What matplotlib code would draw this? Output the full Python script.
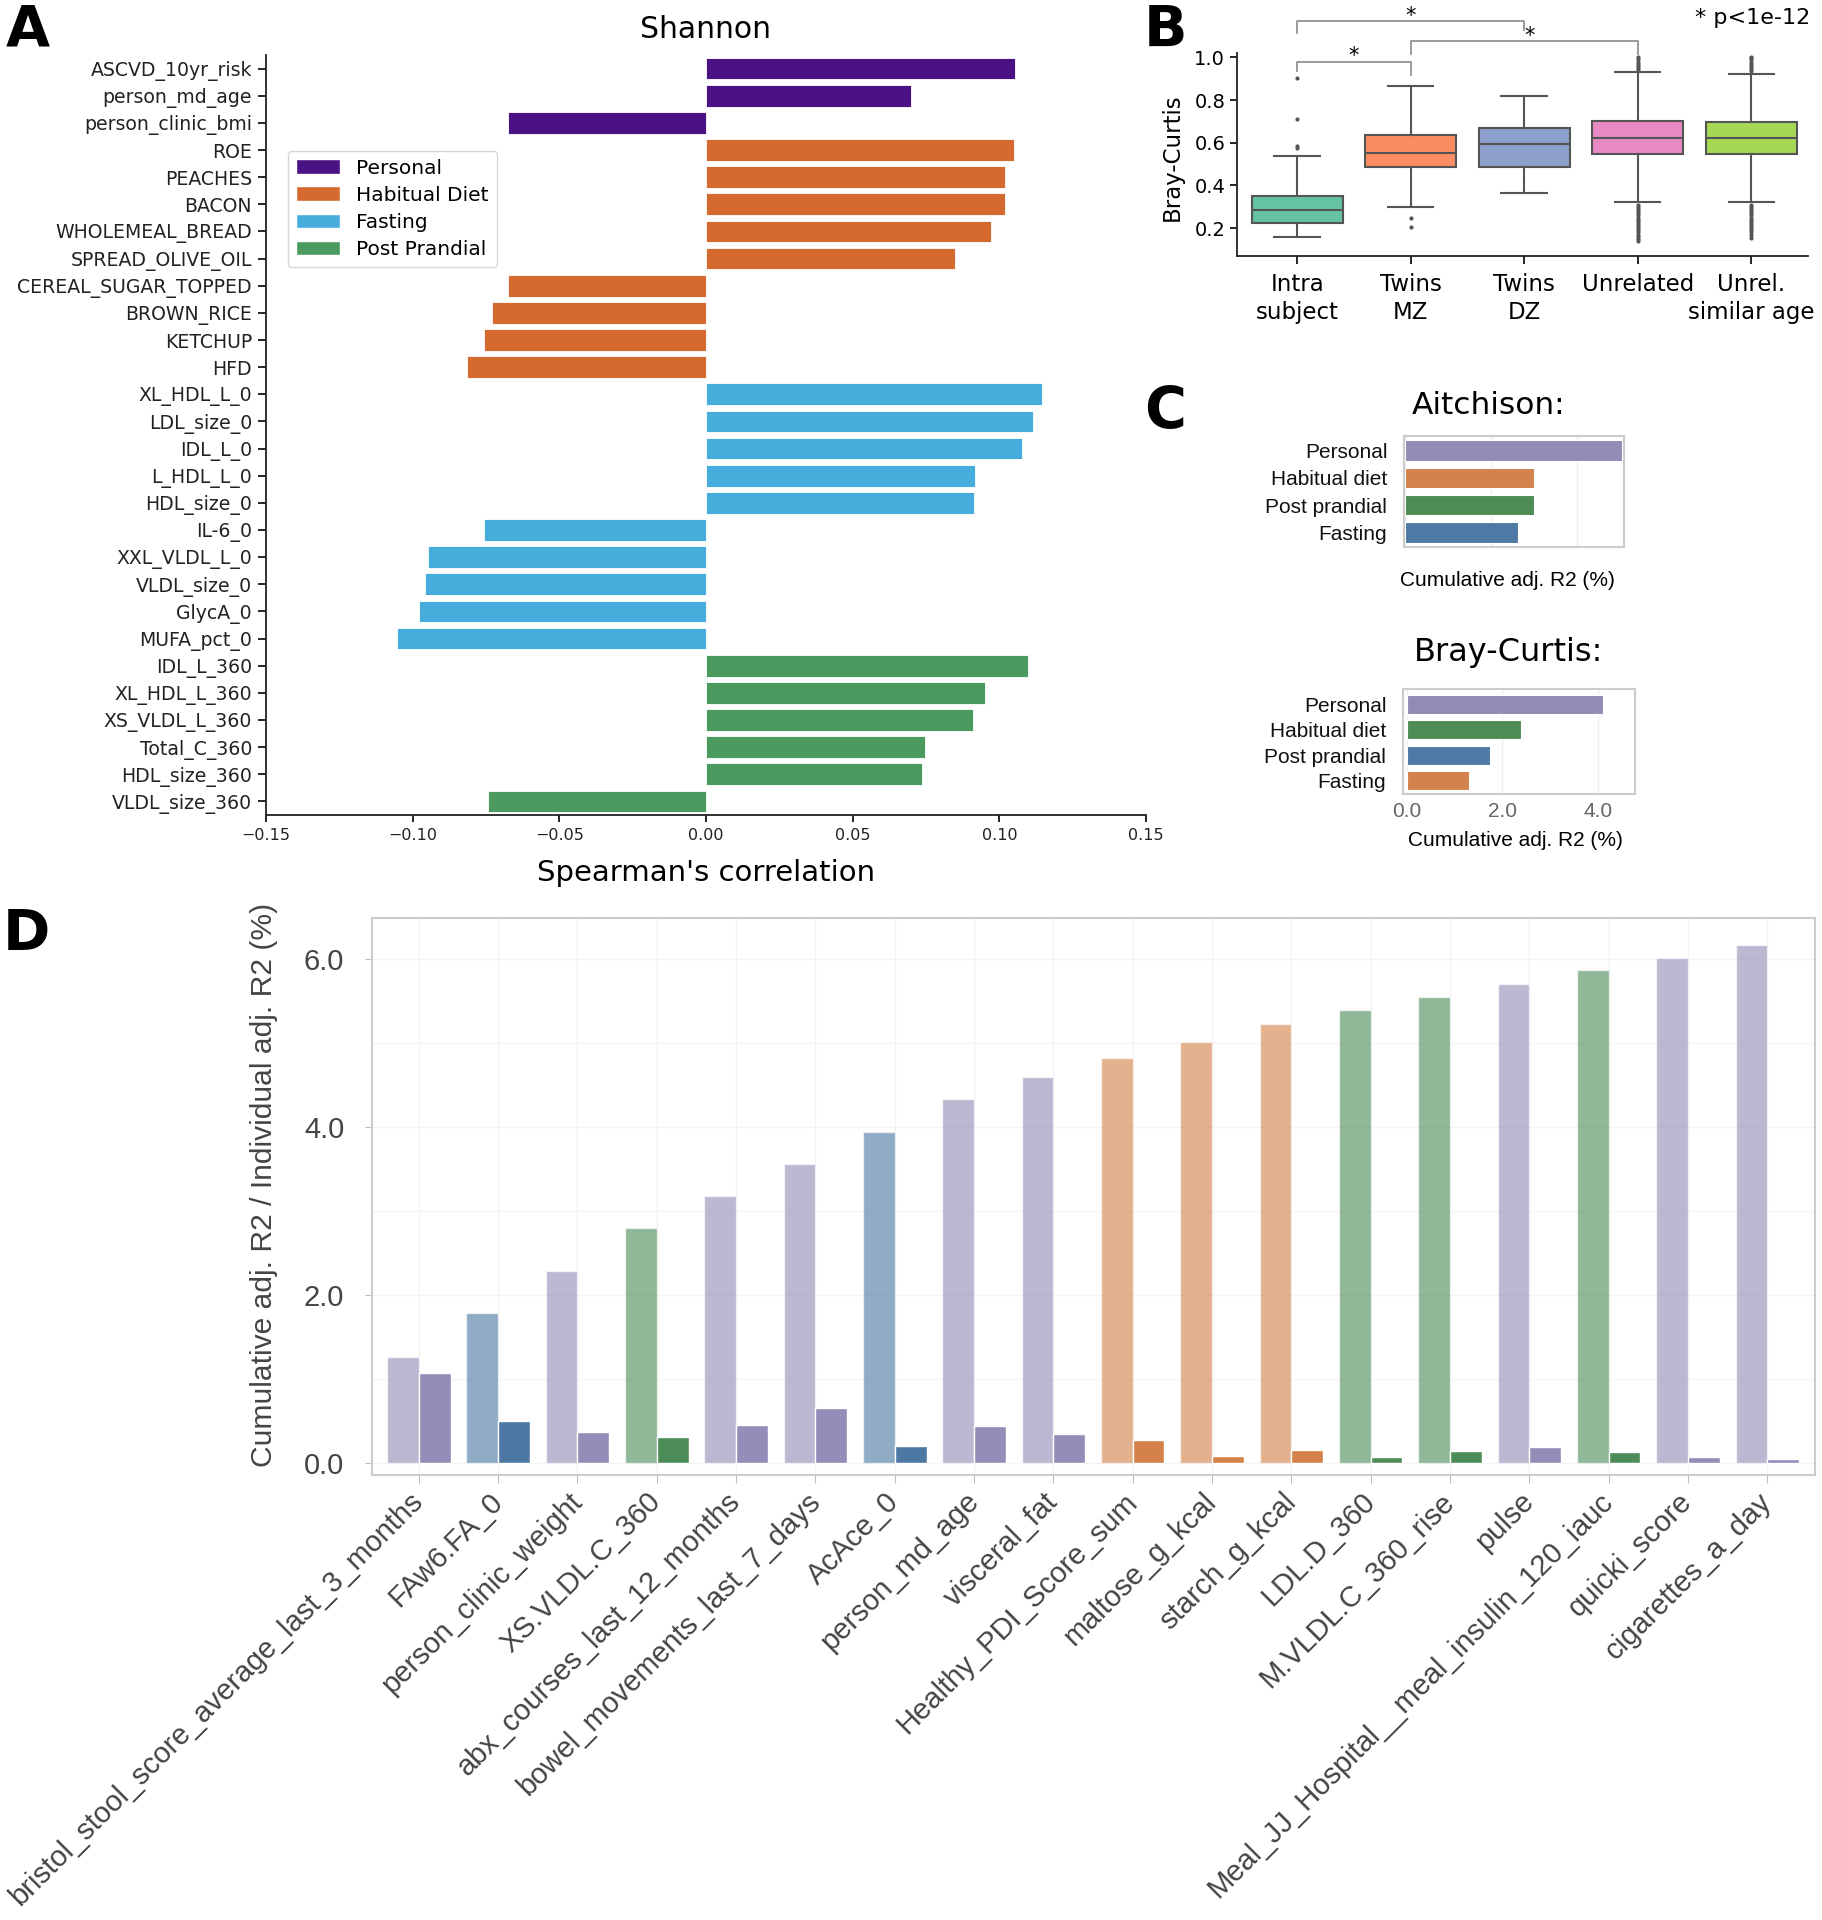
import numpy as np
import matplotlib.pyplot as plt
from matplotlib.patches import Patch

W, H = 1822, 1920

# ---------------- data ----------------
# A: Shannon vs Spearman's correlation
shannon_features = ['ASCVD_10yr_risk', 'person_md_age', 'person_clinic_bmi',
                    'ROE', 'PEACHES', 'BACON', 'WHOLEMEAL_BREAD', 'SPREAD_OLIVE_OIL',
                    'CEREAL_SUGAR_TOPPED', 'BROWN_RICE', 'KETCHUP', 'HFD',
                    'XL_HDL_L_0', 'LDL_size_0', 'IDL_L_0', 'L_HDL_L_0', 'HDL_size_0',
                    'IL-6_0', 'XXL_VLDL_L_0', 'VLDL_size_0', 'GlycA_0', 'MUFA_pct_0',
                    'IDL_L_360', 'XL_HDL_L_360', 'XS_VLDL_L_360', 'Total_C_360',
                    'HDL_size_360', 'VLDL_size_360']
shannon_corr = [0.1055, 0.0698, -0.0675,
                0.105, 0.102, 0.1018, 0.097, 0.0848,
                -0.0675, -0.073, -0.0758, -0.0815,
                0.1145, 0.1115, 0.1078, 0.0918, 0.0913,
                -0.0758, -0.0948, -0.0958, -0.098, -0.1055,
                0.1098, 0.095, 0.091, 0.0748, 0.0738, -0.0743]
shannon_group = (['Personal'] * 3 + ['Habitual Diet'] * 9 +
                 ['Fasting'] * 10 + ['Post Prandial'] * 6)
group_names = ['Personal', 'Habitual Diet', 'Fasting', 'Post Prandial']
group_colors_a = {'Personal': '#4b1284', 'Habitual Diet': '#d46a2f',
                  'Fasting': '#47addc', 'Post Prandial': '#4b9a60'}

# B: Bray-Curtis distances (box summary)
b_labels = ['Intra\nsubject', 'Twins\nMZ', 'Twins\nDZ', 'Unrelated', 'Unrel.\nsimilar age']
b_med = [0.284, 0.554, 0.592, 0.624, 0.624]
b_q1 = [0.225, 0.485, 0.487, 0.549, 0.549]
b_q3 = [0.352, 0.638, 0.668, 0.700, 0.696]
b_lo = [0.161, 0.297, 0.364, 0.322, 0.323]
b_hi = [0.537, 0.866, 0.818, 0.930, 0.924]
b_fliers = [
    [0.574, 0.587, 0.71, 0.904],
    [0.247, 0.205],
    [],
    [0.94, 0.95, 0.96, 0.97, 0.98, 0.99, 1.0, 0.31, 0.30, 0.29, 0.28, 0.27, 0.26,
     0.25, 0.24, 0.23, 0.22, 0.21, 0.20, 0.19, 0.18, 0.17, 0.16, 0.15, 0.142],
    [0.935, 0.945, 0.955, 0.965, 0.975, 0.985, 0.995, 1.0, 0.31, 0.30, 0.29, 0.28,
     0.27, 0.26, 0.25, 0.24, 0.23, 0.22, 0.21, 0.20, 0.19, 0.18, 0.17, 0.155],
]
b_colors = ['#66c2a5', '#fc8d62', '#8da0cb', '#e78ac3', '#a6d854']

# C: cumulative adj. R2
c_labels = ['Personal', 'Habitual diet', 'Post prandial', 'Fasting']
aitchison_r2 = [5.05, 2.99, 2.99, 2.62]
aitchison_colors = ['#918bb6', '#d3824d', '#4e8c55', '#4e79a5']
braycurtis_r2 = [4.10, 2.40, 1.74, 1.30]
braycurtis_colors = ['#918bb6', '#4e8c55', '#4e79a5', '#d3824d']

# D: cumulative / individual adj. R2
d_features = ['bristol_stool_score_average_last_3_months', 'FAw6.FA_0',
              'person_clinic_weight', 'XS.VLDL.C_360', 'abx_courses_last_12_months',
              'bowel_movements_last_7_days', 'AcAce_0', 'person_md_age', 'visceral_fat',
              'Healthy_PDI_Score_sum', 'maltose_g_kcal', 'starch_g_kcal', 'LDL.D_360',
              'M.VLDL.C_360_rise', 'pulse', 'Meal_JJ_Hospital__meal_insulin_120_iauc',
              'quicki_score', 'cigarettes_a_day']
d_cumulative = [1.266, 1.788, 2.289, 2.804, 3.178, 3.557, 3.944, 4.331, 4.60,
                4.823, 5.01, 5.224, 5.394, 5.549, 5.699, 5.868, 6.008, 6.164]
d_individual = [1.07, 0.506, 0.369, 0.311, 0.456, 0.653, 0.201, 0.443, 0.347,
                0.274, 0.087, 0.16, 0.074, 0.151, 0.192, 0.132, 0.074, 0.055]
d_group = ['P', 'F', 'P', 'PP', 'P', 'P', 'F', 'P', 'P',
           'D', 'D', 'D', 'PP', 'PP', 'P', 'PP', 'P', 'P']
d_palette = {'P': '#938db7', 'F': '#4c78a3', 'PP': '#4c8c57', 'D': '#d4824a'}


def rect(x0, y0, x1, y1):
    # pixel box (origin top-left) -> figure fraction
    return [x0 / W, 1 - y1 / H, (x1 - x0) / W, (y1 - y0) / H]


def ftext(x, y, s, **kw):
    fig.text(x / W, 1 - y / H, s, **kw)


fig = plt.figure(figsize=(W / 100, H / 100), dpi=100)
LIB = 'Liberation Sans'

# ---------------- A ----------------
axA = fig.add_axes(rect(266, 55, 1146, 815))
ypos = np.arange(len(shannon_features))
axA.barh(ypos, shannon_corr, height=0.8,
         color=[group_colors_a[g] for g in shannon_group],
         edgecolor='white', linewidth=0.6)
axA.set_ylim(len(shannon_features) - 0.5, -0.5)
axA.set_xlim(-0.15, 0.15)
axA.set_xticks([-0.15, -0.10, -0.05, 0.0, 0.05, 0.10, 0.15])
axA.set_yticks(ypos)
axA.set_yticklabels(shannon_features, fontsize=13.6, color='#222222')
axA.tick_params(axis='y', length=6, width=1.2, pad=4)
axA.tick_params(axis='x', length=5, width=1.2, labelsize=11.5, pad=4, labelcolor='#222222')
for s in ['top', 'right']:
    axA.spines[s].set_visible(False)
for s in ['left', 'bottom']:
    axA.spines[s].set_linewidth(1.3)
    axA.spines[s].set_color('#222222')
handles = [Patch(facecolor=group_colors_a[g], edgecolor='white', label=g) for g in group_names]
axA.legend(handles=handles, loc='upper left', bbox_to_anchor=(0.025, 0.874),
           borderaxespad=0, fontsize=14.5, handlelength=2.2, handleheight=0.75,
           labelspacing=0.4, frameon=True, edgecolor='#cccccc', fancybox=True)
ftext(706, 29, 'Shannon', ha='center', va='center', fontsize=21.5)
ftext(706, 873, "Spearman's correlation", ha='center', va='center', fontsize=21)

# ---------------- B ----------------
axB = fig.add_axes(rect(1237, 53, 1808, 256))
stats = []
for i in range(5):
    stats.append(dict(med=b_med[i], q1=b_q1[i], q3=b_q3[i], whislo=b_lo[i],
                      whishi=b_hi[i], fliers=b_fliers[i]))
gray = '#555555'
bp = axB.bxp(stats, positions=range(5), widths=0.8, capwidths=0.4, patch_artist=True,
             boxprops=dict(edgecolor=gray, linewidth=1.5),
             medianprops=dict(color=gray, linewidth=1.5),
             whiskerprops=dict(color=gray, linewidth=1.5),
             capprops=dict(color=gray, linewidth=1.5),
             flierprops=dict(marker='o', markersize=3, markerfacecolor=gray,
                             markeredgecolor='none'))
for patch, c in zip(bp['boxes'], b_colors):
    patch.set_facecolor(c)
axB.set_xlim(-0.53, 4.5)
axB.set_ylim(0.07, 1.02)
axB.set_yticks([0.2, 0.4, 0.6, 0.8, 1.0])
axB.set_xticks(range(5))
axB.set_xticklabels(b_labels, fontsize=16.5, linespacing=1.3)
axB.tick_params(axis='y', labelsize=14, length=5, width=1.2)
axB.tick_params(axis='x', length=6, width=1.2, pad=6)
for s in ['top', 'right']:
    axB.spines[s].set_visible(False)
for s in ['left', 'bottom']:
    axB.spines[s].set_linewidth(1.3)
    axB.spines[s].set_color('#222222')
ftext(1172, 157, 'Bray-Curtis', rotation=90, ha='center', va='center', fontsize=16.5)
# significance brackets
brackets = [(0, 2, 1.168, 1.114, 1.128, 1.0, 1.168),
            (1, 3, 1.075, 1.016, 1.016, 2.05, 1.075),
            (0, 1, 0.980, 0.938, 0.919, 0.5, 0.980)]
for xa, xb, yb, ya_leg, yb_leg, xs, ys in brackets:
    axB.plot([xa, xa, xb, xb], [ya_leg, yb, yb, yb_leg], color='#8a8a8a', lw=1.2,
             clip_on=False)
    axB.text(xs, ys - 0.022, '*', ha='center', va='bottom', fontsize=15, clip_on=False)
ftext(1810, 18, '* p<1e-12', ha='right', va='center', fontsize=16)

# ---------------- C ----------------
def c_panel(box, vals, cols, xlim, ylim):
    ax = fig.add_axes(box)
    yy = np.arange(len(c_labels))
    ax.barh(yy, vals, height=0.74, color=cols, edgecolor='white', linewidth=0.8)
    ax.set_ylim(*ylim)
    ax.set_xlim(*xlim)
    ax.set_yticks(yy)
    ax.set_yticklabels(c_labels, fontsize=15, family=LIB, color='#111111')
    ax.set_xticks([0, 2, 4])
    ax.tick_params(axis='y', length=0, pad=12)
    ax.tick_params(axis='x', length=0, pad=6)
    ax.grid(axis='x', color='#eeeeee', lw=1)
    ax.set_axisbelow(True)
    for s in ax.spines.values():
        s.set_color('#cccccc')
        s.set_linewidth(1.5)
    return ax

axC1 = c_panel(rect(1404, 436, 1624, 547), aitchison_r2, aitchison_colors,
               (-0.03, 5.1), (3.53, -0.53))
axC1.set_xticklabels([])
axC2 = c_panel(rect(1403, 689, 1635, 794), braycurtis_r2, braycurtis_colors,
               (-0.08, 4.78), (3.52, -0.6))
axC2.set_xticklabels(['0.0', '2.0', '4.0'], fontsize=15, family=LIB, color='#666666')
ftext(1489, 406, 'Aitchison:', ha='center', va='center', fontsize=22.5)
ftext(1509, 653, 'Bray-Curtis:', ha='center', va='center', fontsize=23)
ftext(1507, 581, 'Cumulative adj. R2 (%)', ha='center', va='center', fontsize=15, family=LIB)
ftext(1515, 840, 'Cumulative adj. R2 (%)', ha='center', va='center', fontsize=15, family=LIB)

# ---------------- D ----------------
axD = fig.add_axes(rect(372, 918, 1815, 1475))
xd = np.arange(len(d_features))
cols = [d_palette[g] for g in d_group]
axD.bar(xd - 0.2, d_cumulative, 0.4, color=cols, alpha=0.62, edgecolor='white', linewidth=1)
axD.bar(xd + 0.2, d_individual, 0.4, color=cols, edgecolor='white', linewidth=1)
axD.set_xlim(-0.59, 17.6)
axD.set_ylim(-0.14, 6.49)
axD.set_yticks([0, 2, 4, 6])
axD.set_yticks([1, 3, 5], minor=True)
axD.set_yticklabels(['0.0', '2.0', '4.0', '6.0'], fontsize=21, family=LIB, color='#444444')
axD.set_xticks(xd)
axD.set_xticklabels(d_features, rotation=45, ha='right', va='center',
                    rotation_mode='anchor', fontsize=21, family=LIB, color='#444444')
axD.tick_params(axis='y', which='major', length=5, color='#bbbbbb', pad=15)
axD.tick_params(axis='y', which='minor', length=0)
axD.tick_params(axis='x', length=6, color='#bbbbbb', pad=10)
axD.grid(True, which='both', color='#f3f3f3', lw=1)
axD.set_axisbelow(True)
for s in axD.spines.values():
    s.set_color('#cccccc')
    s.set_linewidth(1.5)
ftext(264, 1185, 'Cumulative adj. R2 / Individual adj. R2 (%)', rotation=90,
      ha='center', va='center', fontsize=21.6, family=LIB, color='#444444')

# panel letters
for letter, x, y in [('A', 6, 4), ('B', 1144, 4), ('C', 1144, 385), ('D', 3, 908)]:
    ftext(x, y, letter, ha='left', va='top', fontsize=41, fontweight='bold')

fig.savefig('out.png', dpi=100)
